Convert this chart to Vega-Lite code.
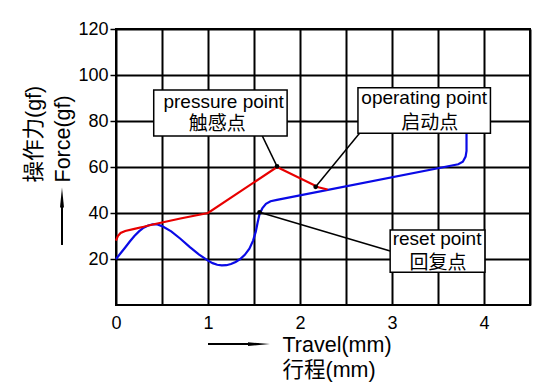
{
  "$schema": "https://vega.github.io/schema/vega-lite/v6.json",
  "width": 414,
  "height": 276,
  "autosize": {"type": "none"},
  "padding": {"left": 116, "top": 29, "right": 9, "bottom": 87},
  "background": "white",
  "config": {
    "view": {"stroke": "black", "strokeWidth": 2},
    "font": "Liberation Sans, Noto Sans CJK SC",
    "axis": {
      "labelFont": "Liberation Sans, Noto Sans CJK SC",
      "titleFont": "Liberation Sans, Noto Sans CJK SC",
      "labelColor": "black",
      "titleColor": "black",
      "labelFontSize": 18,
      "titleFontSize": 21.5,
      "titleFontWeight": "normal",
      "grid": true,
      "gridColor": "black",
      "gridWidth": 2,
      "gridOpacity": 1,
      "domain": false
    }
  },
  "datasets": {
    "curves": [
      {"s": "release", "i": 0, "x": 0, "y": 20},
      {"s": "release", "i": 1, "x": 0.05, "y": 22.5},
      {"s": "release", "i": 2, "x": 0.1, "y": 25},
      {"s": "release", "i": 3, "x": 0.15, "y": 27.6},
      {"s": "release", "i": 4, "x": 0.2, "y": 30},
      {"s": "release", "i": 5, "x": 0.25, "y": 32},
      {"s": "release", "i": 6, "x": 0.3, "y": 33.6},
      {"s": "release", "i": 7, "x": 0.35, "y": 34.6},
      {"s": "release", "i": 8, "x": 0.4, "y": 35.1},
      {"s": "release", "i": 9, "x": 0.45, "y": 35},
      {"s": "release", "i": 10, "x": 0.5, "y": 34.3},
      {"s": "release", "i": 11, "x": 0.6, "y": 32},
      {"s": "release", "i": 12, "x": 0.7, "y": 28.8},
      {"s": "release", "i": 13, "x": 0.8, "y": 25.3},
      {"s": "release", "i": 14, "x": 0.9, "y": 22},
      {"s": "release", "i": 15, "x": 1.0, "y": 19.3},
      {"s": "release", "i": 16, "x": 1.05, "y": 18.2},
      {"s": "release", "i": 17, "x": 1.1, "y": 17.5},
      {"s": "release", "i": 18, "x": 1.15, "y": 17.2},
      {"s": "release", "i": 19, "x": 1.2, "y": 17.3},
      {"s": "release", "i": 20, "x": 1.25, "y": 17.8},
      {"s": "release", "i": 21, "x": 1.3, "y": 18.7},
      {"s": "release", "i": 22, "x": 1.35, "y": 20},
      {"s": "release", "i": 23, "x": 1.4, "y": 21.8},
      {"s": "release", "i": 24, "x": 1.45, "y": 24.5},
      {"s": "release", "i": 25, "x": 1.49, "y": 28},
      {"s": "release", "i": 26, "x": 1.52, "y": 32},
      {"s": "release", "i": 27, "x": 1.54, "y": 36},
      {"s": "release", "i": 28, "x": 1.56, "y": 39.5},
      {"s": "release", "i": 29, "x": 1.59, "y": 42},
      {"s": "release", "i": 30, "x": 1.63, "y": 44},
      {"s": "release", "i": 31, "x": 1.68, "y": 45.1},
      {"s": "release", "i": 32, "x": 1.75, "y": 45.7},
      {"s": "release", "i": 33, "x": 3.72, "y": 61.2},
      {"s": "release", "i": 34, "x": 3.77, "y": 62.3},
      {"s": "release", "i": 35, "x": 3.8, "y": 64.5},
      {"s": "release", "i": 36, "x": 3.81, "y": 67},
      {"s": "release", "i": 37, "x": 3.81, "y": 75},
      {"s": "press", "i": 0, "x": 0, "y": 28},
      {"s": "press", "i": 1, "x": 0.02, "y": 30},
      {"s": "press", "i": 2, "x": 0.05, "y": 31.3},
      {"s": "press", "i": 3, "x": 0.1, "y": 32.2},
      {"s": "press", "i": 4, "x": 0.2, "y": 33.1},
      {"s": "press", "i": 5, "x": 0.3, "y": 34},
      {"s": "press", "i": 6, "x": 0.4, "y": 35},
      {"s": "press", "i": 7, "x": 0.55, "y": 36.3},
      {"s": "press", "i": 8, "x": 0.7, "y": 37.6},
      {"s": "press", "i": 9, "x": 0.85, "y": 38.8},
      {"s": "press", "i": 10, "x": 1.0, "y": 40},
      {"s": "press", "i": 11, "x": 1.75, "y": 60},
      {"s": "press", "i": 12, "x": 2.2, "y": 51.2},
      {"s": "press", "i": 13, "x": 2.3, "y": 50.2}
    ],
    "boxes": [
      {"x": 0.41, "x2": 1.86, "y": 73.5, "y2": 93.5},
      {"x": 2.63, "x2": 4.07, "y": 74.7, "y2": 94.5},
      {"x": 2.98, "x2": 4.01, "y": 14.2, "y2": 32.6}
    ],
    "boxtext": [
      {"x": 1.17, "y": 88.4, "t": "pressure point"},
      {"x": 1.1, "y": 78.5, "t": "触感点"},
      {"x": 3.35, "y": 89.9, "t": "operating point"},
      {"x": 3.41, "y": 79.2, "t": "启动点"},
      {"x": 3.49, "y": 28.7, "t": "reset point"},
      {"x": 3.5, "y": 18.1, "t": "回复点"}
    ],
    "leaders": [
      {"x": 1.59, "y": 73.5, "x2": 1.75, "y2": 60.3},
      {"x": 2.645, "y": 74.6, "x2": 2.17, "y2": 51.4},
      {"x": 2.98, "y": 23.5, "x2": 1.56, "y2": 40.3}
    ],
    "ends": [
      {"x": 1.75, "y": 60.3},
      {"x": 2.17, "y": 51.4},
      {"x": 1.56, "y": 40.3}
    ],
    "arrows": [
      {"x": 1.0, "y": -17, "x2": 1.55, "y2": -17},
      {"x": -0.587, "y": 26.1, "x2": -0.587, "y2": 46}
    ],
    "headright": [
      {"x": 1.554, "y": -17}
    ],
    "headup": [
      {"x": -0.587, "y": 46.7}
    ]
  },
  "encoding": {
    "x": {
      "field": "x",
      "type": "quantitative",
      "scale": {"domain": [0, 4.5], "nice": false, "zero": false},
      "axis": {
        "values": [0, 0.5, 1, 1.5, 2, 2.5, 3, 3.5, 4, 4.5],
        "labelExpr": "datum.value % 1 === 0 ? format(datum.value, 'd') : ''",
        "ticks": false,
        "labelPadding": 9,
        "labelFlush": false,
        "labelOverlap": false,
        "title": ["Travel(mm)", "行程(mm)"],
        "titleAlign": "left",
        "titleAnchor": null,
        "titleBaseline": "middle",
        "titleX": 166,
        "titleY": 40.5,
        "titleLineHeight": 25
      }
    },
    "y": {
      "field": "y",
      "type": "quantitative",
      "scale": {"domain": [0, 120], "nice": false, "zero": false},
      "axis": {
        "values": [20, 40, 60, 80, 100, 120],
        "format": "d",
        "ticks": true,
        "tickSize": 6,
        "tickColor": "black",
        "tickWidth": 1.5,
        "labelPadding": 2,
        "labelFlush": false,
        "labelOverlap": false,
        "title": ["操作力(gf)", "Force(gf)"],
        "titleAngle": 270,
        "titleAlign": "left",
        "titleAnchor": null,
        "titleBaseline": "middle",
        "titleX": -81.5,
        "titleY": 153,
        "titleLineHeight": 29
      }
    }
  },
  "layer": [
    {
      "data": {"name": "curves"},
      "mark": {"type": "line", "strokeWidth": 2.2},
      "encoding": {
        "order": {"field": "i", "type": "quantitative"},
        "color": {
          "field": "s",
          "type": "nominal",
          "scale": {"domain": ["release", "press"], "range": ["#0a0ae6", "#e80000"]},
          "legend": null
        },
        "detail": {"field": "s"}
      }
    },
    {
      "data": {"name": "leaders"},
      "mark": {"type": "rule", "color": "black", "strokeWidth": 1.5},
      "encoding": {
        "x2": {"field": "x2"},
        "y2": {"field": "y2"}
      }
    },
    {
      "data": {"name": "ends"},
      "mark": {"type": "circle", "color": "black", "size": 22, "opacity": 1},
      "encoding": {}
    },
    {
      "data": {"name": "boxes"},
      "mark": {"type": "rect", "fill": "white", "stroke": "black", "strokeWidth": 1.5},
      "encoding": {
        "x2": {"field": "x2"},
        "y2": {"field": "y2"}
      }
    },
    {
      "data": {"name": "boxtext"},
      "mark": {"type": "text", "fontSize": 19, "color": "black", "align": "center", "baseline": "middle"},
      "encoding": {
        "text": {"field": "t"}
      }
    },
    {
      "data": {"name": "arrows"},
      "mark": {"type": "rule", "color": "black", "strokeWidth": 2},
      "encoding": {
        "x2": {"field": "x2"},
        "y2": {"field": "y2"}
      }
    },
    {
      "data": {"name": "headright"},
      "mark": {"type": "point", "shape": "M-1,-0.17L1,0L-1,0.17Z", "filled": true, "color": "black", "size": 480, "opacity": 1},
      "encoding": {}
    },
    {
      "data": {"name": "headup"},
      "mark": {"type": "point", "shape": "M-0.2,1L0,-1L0.2,1Z", "filled": true, "color": "black", "size": 400, "opacity": 1},
      "encoding": {}
    }
  ]
}
